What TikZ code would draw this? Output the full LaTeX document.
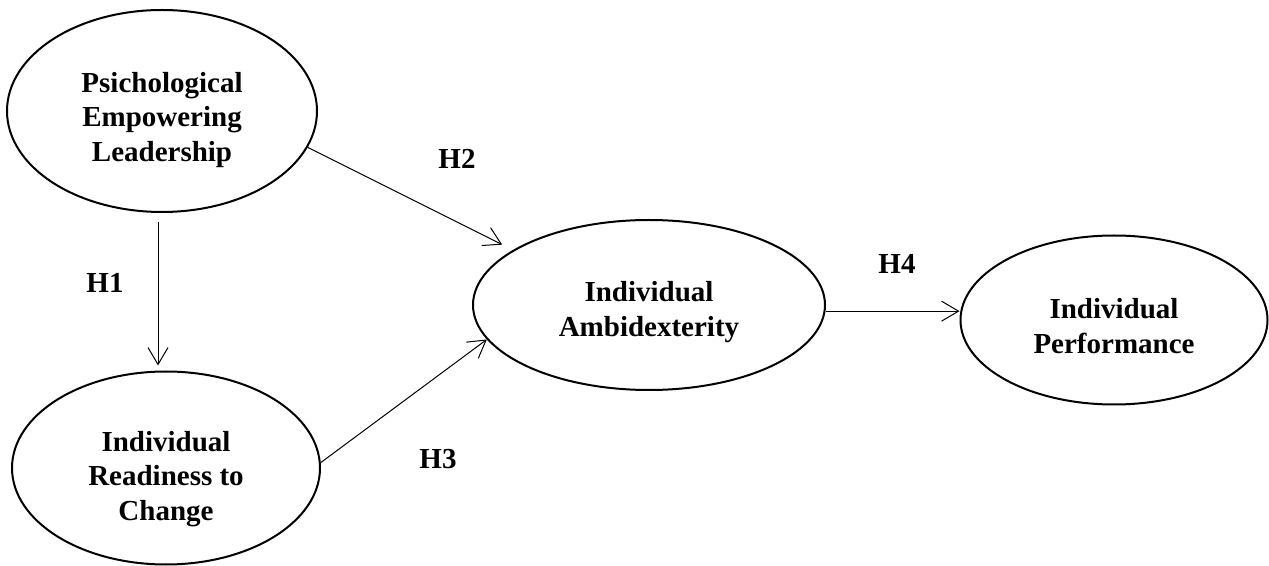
\documentclass[tikz,border=0pt]{standalone}
\usepackage{fontspec}
\setmainfont{Liberation Serif}
\usetikzlibrary{shapes.geometric,arrows.meta}
\tikzset{
    construct/.style={ellipse,draw,line width=1pt,inner sep=0pt},
    ctext/.style={align=center,inner sep=0pt,font=\fontsize{14.5}{17.2}\selectfont\bfseries},
    hyp/.style={-{Straight Barb[length=8.5pt,width=10pt]},line width=0.5pt},
    hlabel/.style={font=\fontsize{14.5}{17}\selectfont\bfseries},
}

\begin{document}
\begin{tikzpicture}[x=0.5pt,y=-0.5pt]
    \useasboundingbox (0,0) rectangle (1269,566);
    \node[construct,minimum width=155pt,minimum height=101pt] (pel) at (162,111) {};
    \node[construct,minimum width=154pt,minimum height=96.5pt] (irc) at (166,468) {};
    \node[construct,minimum width=176pt,minimum height=85pt] (amb) at (649,305) {};
    \node[construct,minimum width=153.5pt,minimum height=84.5pt] (perf) at (1114,320) {};
    \node[ctext] (pel-t) at ([yshift=-4.5pt]pel) {Psichological\\Empowering\\Leadership};
    \node[ctext] (irc-t) at ([yshift=-5.5pt]irc) {Individual\\Readiness to\\Change};
    \node[ctext] (amb-t) at ([yshift=-3.5pt]amb) {Individual\\Ambidexterity};
    \node[ctext] (perf-t) at ([yshift=-3pt]perf) {Individual\\Performance};
    % hypotheses
    \draw[hyp,shorten <=4.5pt,shorten >=2.5pt] ([xshift=-2pt]pel.south) -- ([xshift=-2pt]pel.south |- irc.north);
    \draw[hyp,shorten >=6pt] (pel.-14) -- (amb.158);
    \draw[hyp] (irc.2) -- (amb.192);
    \draw[hyp] (amb.-2) -- (amb.-2 -| perf.west);
    \node[hlabel] (h1) at (105,283) {H1};
    \node[hlabel] (h2) at (457,159) {H2};
    \node[hlabel] (h3) at (438,459) {H3};
    \node[hlabel] (h4) at (897,264) {H4};
\end{tikzpicture}
\end{document}
